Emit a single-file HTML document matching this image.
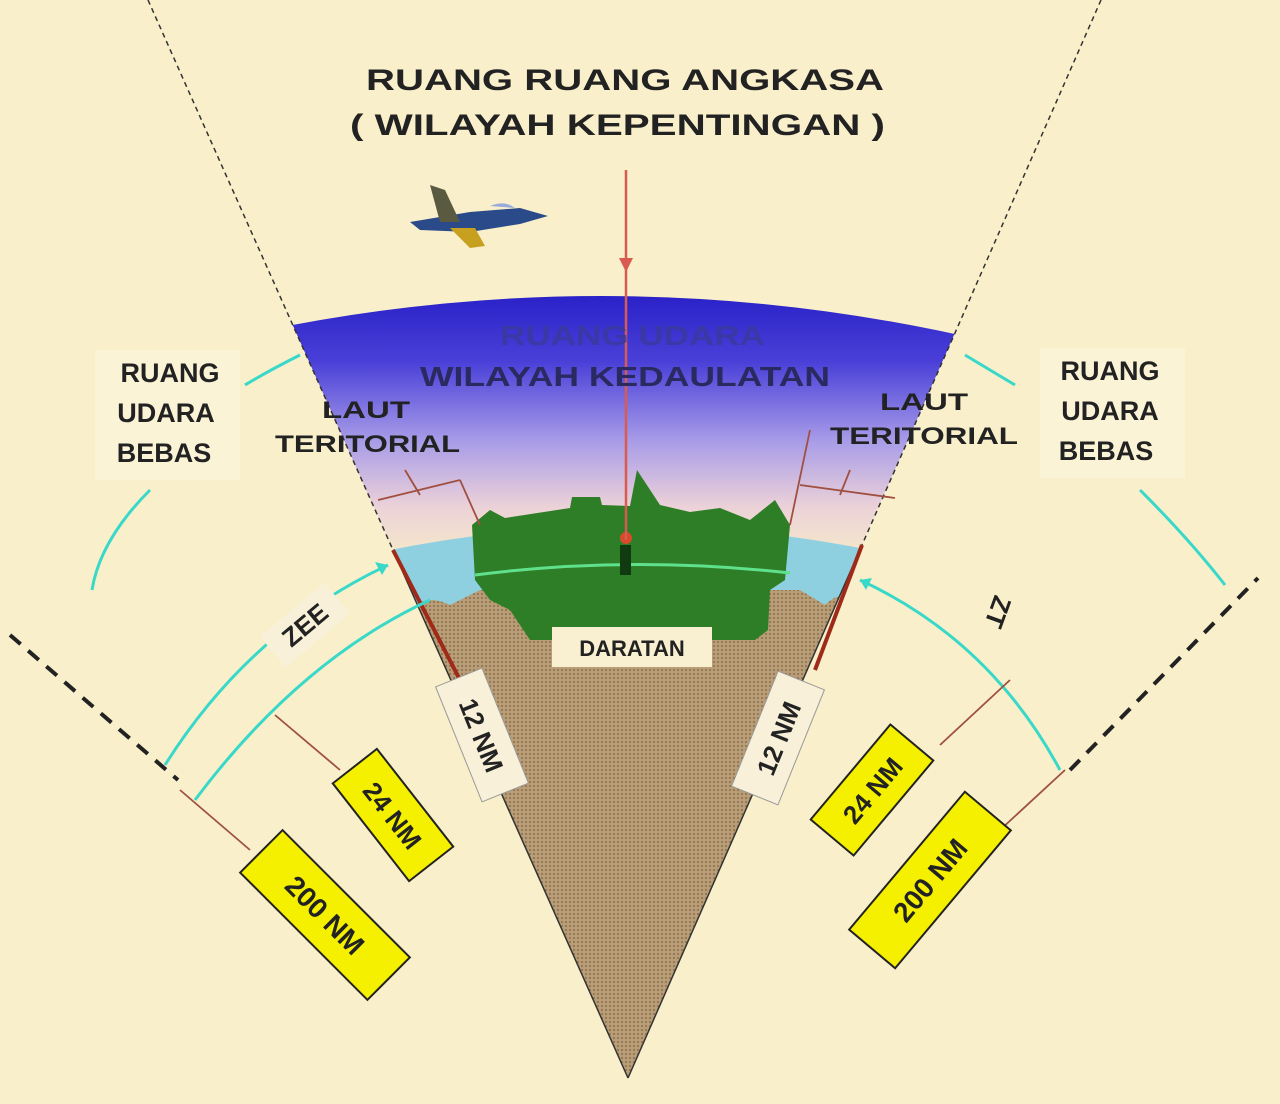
<!DOCTYPE html>
<html><head><meta charset="utf-8"><style>
html,body{margin:0;padding:0;background:#f9f0cb;}
svg{display:block;}
text{font-family:"Liberation Sans",sans-serif;font-weight:bold;}
</style></head><body>
<svg width="1280" height="1104" viewBox="0 0 1280 1104" xmlns="http://www.w3.org/2000/svg">
<defs>
<linearGradient id="sky" x1="0" y1="0" x2="0" y2="1">
<stop offset="0" stop-color="#2a22c8"/>
<stop offset="0.25" stop-color="#4a40d8"/>
<stop offset="0.55" stop-color="#a89ce8"/>
<stop offset="0.8" stop-color="#ecd2d8"/>
<stop offset="1" stop-color="#f6eac8"/>
</linearGradient>
<pattern id="hatch" width="4" height="4" patternUnits="userSpaceOnUse">
<rect width="4" height="4" fill="#b89d76"/>
<circle cx="2" cy="2" r="0.9" fill="#7a6040"/>
</pattern>
<clipPath id="wedge"><polygon points="148,0 1101,0 628,1078"/></clipPath>
</defs>
<rect width="1280" height="1104" fill="#f9f0cb"/>

<g clip-path="url(#wedge)">
<path d="M200,345 Q630,240 1060,360 L1060,560 L200,560 Z" fill="url(#sky)"/>
<path d="M380,552 Q630,500 880,552 L880,610 L380,610 Z" fill="#8fd0e0"/>
<path d="M380,558 Q630,520 880,558 L628,1078 Z" fill="url(#hatch)"/>
<path d="M390,552 Q630,505 870,552 L855,600 Q840,590 825,605 L800,590 L480,590 L450,605 Q430,595 415,605 Z" fill="#8fd0e0"/>
</g>
<path d="M472,525 L490,510 L505,518 L570,508 L572,497 L600,497 L602,505 L630,506 L637,470 L660,505 L690,512 L720,508 L750,520 L775,500 L790,525 L785,580 L770,590 L768,630 L755,640 L530,640 L510,610 L490,600 L475,580 Z" fill="#2e7d27"/>
<path d="M475,575 Q630,555 790,573" stroke="#5fe08a" stroke-width="3" fill="none"/>
<rect x="620" y="545" width="11" height="30" fill="#123a10"/>
<circle cx="626" cy="538" r="6" fill="#d84a2a"/>

<line x1="626" y1="170" x2="626" y2="540" stroke="#d85a50" stroke-width="2.5"/>
<polygon points="619,258 633,258 626,272" fill="#d85a50"/>

<line x1="148" y1="0" x2="393" y2="550" stroke="#333" stroke-width="1.5" stroke-dasharray="5,4"/>
<line x1="1101" y1="0" x2="862" y2="545" stroke="#333" stroke-width="1.5" stroke-dasharray="5,4"/>
<line x1="393" y1="550" x2="628" y2="1078" stroke="#333" stroke-width="1.5"/>
<line x1="862" y1="545" x2="628" y2="1078" stroke="#333" stroke-width="1.5"/>
<line x1="393" y1="550" x2="460" y2="680" stroke="#a02a1a" stroke-width="4"/>
<line x1="862" y1="545" x2="815" y2="670" stroke="#a02a1a" stroke-width="4"/>
<line x1="10" y1="635" x2="178" y2="780" stroke="#222" stroke-width="4" stroke-dasharray="14,10"/>
<line x1="1070" y1="770" x2="1258" y2="578" stroke="#222" stroke-width="4" stroke-dasharray="14,10"/>

<g stroke="#3ad8c8" stroke-width="3" fill="none">
<path d="M165,765 Q250,630 388,565"/>
<path d="M195,800 Q300,660 430,600"/>
<path d="M860,580 Q990,640 1060,770"/>
<path d="M300,355 Q270,370 245,385"/>
<path d="M150,490 Q100,540 92,590"/>
<path d="M965,355 Q990,370 1015,385"/>
<path d="M1140,490 Q1190,540 1225,585"/>
</g>
<polygon points="388,565 375,562 382,575" fill="#3ad8c8"/>
<polygon points="860,580 872,578 866,590" fill="#3ad8c8"/>

<g stroke="#a05040" stroke-width="1.8">
<line x1="180" y1="790" x2="250" y2="850"/>
<line x1="275" y1="715" x2="340" y2="770"/>
<line x1="940" y1="745" x2="1010" y2="680"/>
<line x1="1000" y1="830" x2="1065" y2="770"/>
<line x1="378" y1="500" x2="460" y2="480"/>
<line x1="405" y1="470" x2="420" y2="495"/>
<line x1="460" y1="480" x2="480" y2="525"/>
<line x1="800" y1="485" x2="895" y2="498"/>
<line x1="850" y1="470" x2="840" y2="495"/>
<line x1="810" y1="430" x2="790" y2="525"/>
</g>

<g>
<path d="M410,222 L470,212 L520,208 L548,216 L520,224 L470,232 L420,230 Z" fill="#2a4a8a"/>
<path d="M430,185 L445,190 L460,222 L440,222 Z" fill="#5a5a40"/>
<path d="M450,228 L470,248 L485,246 L475,228 Z" fill="#c8a020"/>
<path d="M490,206 Q505,200 515,208 Z" fill="#9ad"/>
</g>

<text x="366" y="90" font-size="30" textLength="518" lengthAdjust="spacingAndGlyphs" fill="#222">RUANG RUANG ANGKASA</text>
<text x="350" y="135" font-size="30" textLength="535" lengthAdjust="spacingAndGlyphs" fill="#222">( WILAYAH KEPENTINGAN )</text>
<text x="500" y="345" font-size="28" textLength="265" lengthAdjust="spacingAndGlyphs" fill="#3a3a9a" opacity="0.8">RUANG UDARA</text>
<text x="420" y="386" font-size="28" textLength="410" lengthAdjust="spacingAndGlyphs" fill="#2a2a60">WILAYAH KEDAULATAN</text>

<g font-size="24" fill="#222">
<text x="322" y="418" textLength="88" lengthAdjust="spacingAndGlyphs">LAUT</text>
<text x="275" y="452" textLength="185" lengthAdjust="spacingAndGlyphs">TERITORIAL</text>
<text x="880" y="410" textLength="88" lengthAdjust="spacingAndGlyphs">LAUT</text>
<text x="830" y="444" textLength="188" lengthAdjust="spacingAndGlyphs">TERITORIAL</text>
</g>
<rect x="95" y="350" width="145" height="130" fill="#fbf3d6"/>
<rect x="1040" y="348" width="145" height="130" fill="#fbf3d6"/>
<g font-size="27" fill="#222">
<text x="170" y="382" text-anchor="middle">RUANG</text>
<text x="166" y="422" text-anchor="middle">UDARA</text>
<text x="164" y="462" text-anchor="middle">BEBAS</text>
<text x="1110" y="380" text-anchor="middle">RUANG</text>
<text x="1110" y="420" text-anchor="middle">UDARA</text>
<text x="1106" y="460" text-anchor="middle">BEBAS</text>
</g>

<rect x="552" y="627" width="160" height="40" fill="#f8f0d0"/>
<text x="632" y="656" font-size="22" text-anchor="middle" fill="#222">DARATAN</text>

<g transform="translate(482,735) rotate(68)"><rect x="-62" y="-25" width="124" height="50" fill="#f8f0d8" stroke="#999"/><text x="0" y="10" font-size="26" text-anchor="middle" fill="#222">12 NM</text></g>
<g transform="translate(778,738) rotate(-68)"><rect x="-62" y="-25" width="124" height="50" fill="#f8f0d8" stroke="#999"/><text x="0" y="10" font-size="26" text-anchor="middle" fill="#222">12 NM</text></g>
<g transform="translate(393,815) rotate(52)"><rect x="-62" y="-28" width="124" height="56" fill="#f4f000" stroke="#222" stroke-width="2"/><text x="0" y="10" font-size="26" text-anchor="middle" fill="#222">24 NM</text></g>
<g transform="translate(325,915) rotate(45)"><rect x="-90" y="-30" width="180" height="60" fill="#f4f000" stroke="#222" stroke-width="2"/><text x="0" y="10" font-size="28" text-anchor="middle" fill="#222">200 NM</text></g>
<g transform="translate(872,790) rotate(-50)"><rect x="-62" y="-28" width="124" height="56" fill="#f4f000" stroke="#222" stroke-width="2"/><text x="0" y="10" font-size="26" text-anchor="middle" fill="#222">24 NM</text></g>
<g transform="translate(930,880) rotate(-50)"><rect x="-90" y="-30" width="180" height="60" fill="#f4f000" stroke="#222" stroke-width="2"/><text x="0" y="10" font-size="28" text-anchor="middle" fill="#222">200 NM</text></g>
<g transform="translate(305,625) rotate(-40)"><rect x="-42" y="-20" width="84" height="40" fill="#f8f0d8"/><text x="0" y="9" font-size="26" text-anchor="middle" fill="#222">ZEE</text></g>
<g transform="translate(998,612) rotate(110)"><text x="0" y="9" font-size="26" text-anchor="middle" fill="#222">ZT</text></g>
</svg>
</body></html>
